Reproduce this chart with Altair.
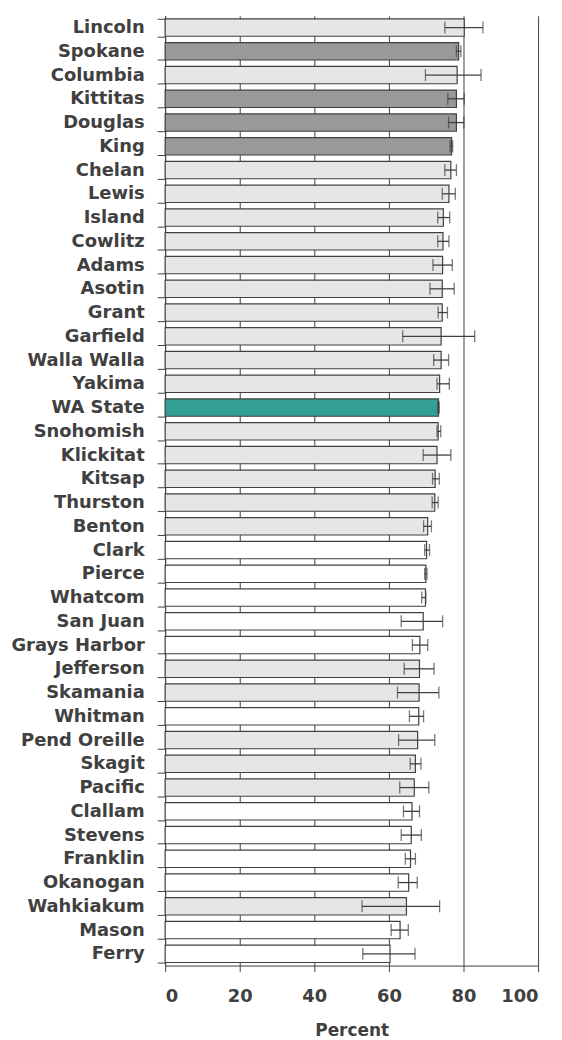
import altair as alt
import pandas as pd

counties = ["Lincoln", "Spokane", "Columbia", "Kittitas", "Douglas", "King", "Chelan", "Lewis",
            "Island", "Cowlitz", "Adams", "Asotin", "Grant", "Garfield", "Walla Walla", "Yakima",
            "WA State", "Snohomish", "Klickitat", "Kitsap", "Thurston", "Benton", "Clark", "Pierce",
            "Whatcom", "San Juan\u00a0", "Grays Harbor", "Jefferson", "Skamania", "Whitman",
            "Pend Oreille", "Skagit", "Pacific", "Clallam", "Stevens", "Franklin", "Okanogan",
            "Wahkiakum", "Mason", "Ferry"]
values = [80.2, 78.7, 78.3, 78.1, 78.1, 76.8, 76.6, 76.1, 74.6, 74.5, 74.4, 74.3, 74.3, 74.0,
          74.0, 73.6, 73.3, 73.2, 72.9, 72.4, 72.3, 70.4, 70.1, 69.9, 69.8, 69.2, 68.3, 68.2,
          68.1, 68.0, 67.7, 67.1, 66.8, 66.2, 66.0, 65.8, 65.3, 64.7, 63.0, 60.3]
lower = [75.0, 78.1, 69.8, 75.8, 76.0, 76.4, 75.0, 74.3, 73.1, 73.1, 71.8, 71.0, 73.2, 63.7,
         72.0, 72.9, 73.1, 72.9, 69.2, 71.7, 71.6, 69.3, 69.6, 69.6, 68.8, 63.3, 66.3, 64.1,
         62.3, 65.5, 62.6, 65.7, 62.9, 63.9, 63.3, 64.4, 62.5, 52.8, 60.6, 53.0]
upper = [85.2, 79.3, 84.7, 80.2, 80.1, 77.1, 78.1, 77.8, 76.3, 76.1, 77.0, 77.5, 75.7, 83.0,
         76.0, 76.2, 73.5, 73.9, 76.6, 73.5, 73.2, 71.4, 70.9, 70.2, 69.9, 74.4, 70.4, 72.1,
         73.4, 69.3, 72.3, 68.6, 70.7, 68.2, 68.7, 67.1, 67.6, 73.6, 65.2, 67.0]
groups = ["light", "dark", "light", "dark", "dark", "dark", "light", "light", "light", "light",
          "light", "light", "light", "light", "light", "light", "state", "light", "light", "light",
          "light", "light", "white", "white", "white", "white", "white", "light", "light", "white",
          "light", "light", "light", "white", "white", "white", "white", "light", "white", "white"]

group_domain = ["light", "dark", "state", "white"]
group_colors = ["#e6e6e6", "#999999", "#339e94", "#ffffff"]
x_ticks = [0, 20, 40, 60, 80, 100]

df = pd.DataFrame({"county": counties, "value": values, "lower": lower,
                   "upper": upper, "group": groups})

FONT = "DejaVu Sans"
INK = "#404040"

y_enc = alt.Y("county:N", sort=counties, title=None,
              scale=alt.Scale(paddingInner=0.27, paddingOuter=0.13),
              axis=alt.Axis(tickBand="extent", labelFont=FONT, labelFontSize=18,
                            labelFontWeight="bold", labelColor=INK, tickColor=INK,
                            tickSize=8, labelPadding=13, domainColor=INK,
                            grid=False, labelLimit=200))

x_scale = alt.Scale(domain=[0, 100], nice=False)

bars = alt.Chart(df).mark_bar(stroke=INK, strokeWidth=1.2).encode(
    x=alt.X("value:Q", scale=x_scale, title="Percent",
            axis=alt.Axis(values=x_ticks, grid=True, gridColor=INK, gridOpacity=1,
                          gridWidth=1, domainColor=INK, tickColor=INK, tickSize=6,
                          labelPadding=16, labelFont=FONT, labelFontSize=18,
                          labelFontWeight="bold", labelColor=INK, titleFont=FONT,
                          titleFontSize=17, titleFontWeight="bold", titleColor=INK,
                          titlePadding=17)),
    y=y_enc,
    fill=alt.Fill("group:N", scale=alt.Scale(domain=group_domain, range=group_colors),
                  legend=None),
)

rules = alt.Chart(df).mark_rule(color=INK, strokeWidth=1.3).encode(
    x=alt.X("lower:Q", scale=x_scale),
    x2="upper:Q",
    y=alt.Y("county:N", sort=counties),
)

caps = alt.Chart(df).transform_fold(["lower", "upper"], as_=["end", "pos"]).mark_tick(
    color=INK, thickness=1.3, size=12
).encode(
    x=alt.X("pos:Q", scale=x_scale),
    y=alt.Y("county:N", sort=counties),
)

chart = alt.layer(bars, rules, caps).properties(
    width=375, height=955,
    autosize=alt.AutoSizeParams(type="none"),
    padding={"left": 158, "top": 5, "right": 16, "bottom": 74},
).configure_view(stroke=None)

chart.save("out.html", embed_options={"renderer": "svg", "actions": False})
